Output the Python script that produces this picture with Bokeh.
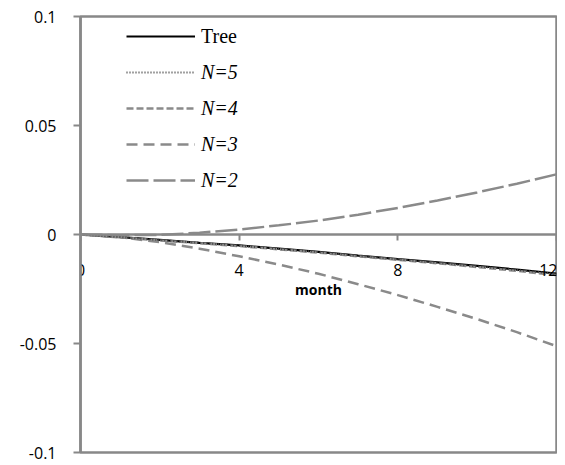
from bokeh.plotting import figure
from bokeh.models import Range1d, FixedTicker, Legend, LegendItem, CustomJSTickFormatter
from bokeh.embed import file_html
from bokeh.resources import INLINE

months = list(range(13))
tree = [0, -0.0012, -0.0025, -0.0038, -0.0050, -0.0065, -0.0080, -0.0097, -0.0113, -0.0128, -0.0144, -0.0161, -0.0179]
n5 = [0, -0.0012, -0.0025, -0.0038, -0.0051, -0.0066, -0.0081, -0.0098, -0.0114, -0.0130, -0.0146, -0.0163, -0.0181]
n4 = [0, -0.0013, -0.0027, -0.0040, -0.0053, -0.0068, -0.0083, -0.0100, -0.0116, -0.0132, -0.0149, -0.0167, -0.0186]
n3 = [0, -0.0012, -0.0035, -0.0065, -0.0100, -0.0138, -0.0180, -0.0228, -0.0278, -0.0332, -0.0388, -0.0448, -0.0512]
n2 = [0, -0.0003, -0.0002, 0.0008, 0.0023, 0.0042, 0.0064, 0.0091, 0.0122, 0.0156, 0.0193, 0.0233, 0.0276]

series_labels = ["Tree", "N=5", "N=4", "N=3", "N=2"]
x_ticks = [0, 4, 8, 12]
y_ticks = [-0.1, -0.05, 0, 0.05, 0.1]
y_tick_labels = ["-0.1", "-0.05", "0", "0.05", "0.1"]
x_label = "month"

GRAY = "#888888"
LINE_GRAY = "#8a8a8a"

p = figure(width=557, height=465, output_backend="svg", toolbar_location=None,
           x_range=Range1d(0, 12), y_range=Range1d(-0.1, 0.1),
           min_border_left=80, min_border_right=1, min_border_top=16, min_border_bottom=13)
p.grid.visible = False
p.outline_line_color = GRAY
p.outline_line_width = 2.5
p.background_fill_color = "white"
p.border_fill_color = "white"

xa = p.xaxis[0]
xa.fixed_location = 0
xa.ticker = FixedTicker(ticks=x_ticks)
xa.axis_line_color = GRAY
xa.axis_line_width = 2.5
xa.major_tick_line_color = GRAY
xa.major_tick_line_width = 2
xa.major_tick_out = 6
xa.major_tick_in = 0
xa.minor_tick_out = 0
xa.minor_tick_in = 0
xa.major_label_standoff = 23
xa.major_label_text_font = "Open Sans"
xa.major_label_text_font_size = "16px"
xa.major_label_text_color = "black"
xa.axis_label = x_label
xa.axis_label_text_font = "Open Sans"
xa.axis_label_text_font_size = "14px"
xa.axis_label_text_font_style = "bold"
xa.axis_label_text_color = "black"
xa.axis_label_standoff = 1

ya = p.yaxis[0]
ya.ticker = FixedTicker(ticks=y_ticks)
ya.formatter = CustomJSTickFormatter(args=dict(labels=y_tick_labels), code="return labels[index];")
ya.axis_line_color = GRAY
ya.axis_line_width = 2.5
ya.major_tick_line_color = GRAY
ya.major_tick_line_width = 2
ya.major_tick_out = 7
ya.major_tick_in = 0
ya.minor_tick_out = 0
ya.minor_tick_in = 0
ya.major_label_standoff = 17
ya.major_label_text_font = "Open Sans"
ya.major_label_text_font_size = "16px"
ya.major_label_text_color = "black"

r_tree = p.line(months, tree, line_color="black", line_width=2.2)
r_n2 = p.line(months, n2, line_color=LINE_GRAY, line_width=2.5, line_dash="22 5")
r_n3 = p.line(months, n3, line_color=LINE_GRAY, line_width=2.5, line_dash="11 6")
r_n4 = p.line(months, n4, line_color=LINE_GRAY, line_width=2.5, line_dash="7 3")
r_n5 = p.line(months, n5, line_color="#444444", line_width=2, line_dash="1 2")

common = dict(padding=0, margin=0, border_line_color=None, background_fill_alpha=0,
              glyph_width=69, glyph_height=24, label_height=24, spacing=12,
              label_standoff=6, label_text_font="Liberation Serif",
              label_text_font_size="20px", label_text_color="black")

leg1 = Legend(items=[LegendItem(label=series_labels[0], renderers=[r_tree])],
              location=(46, 404), **common)
leg2 = Legend(items=[LegendItem(label=series_labels[1], renderers=[r_n5]),
                     LegendItem(label=series_labels[2], renderers=[r_n4]),
                     LegendItem(label=series_labels[3], renderers=[r_n3]),
                     LegendItem(label=series_labels[4], renderers=[r_n2])],
              location=(46, 260), label_text_font_style="italic", **common)
p.add_layout(leg1)
p.add_layout(leg2)

open("out.html", "w").write(file_html(p, INLINE))
